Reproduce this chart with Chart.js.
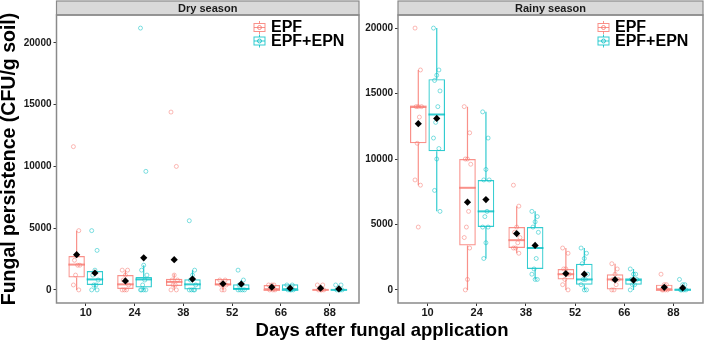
<!DOCTYPE html>
<html>
<head>
<meta charset="utf-8">
<script src="https://cdn.jsdelivr.net/npm/chart.js@4.4.0/dist/chart.umd.min.js"></script>
<style>
  body { margin: 0; background: #fff; width: 708px; height: 342px; position: relative; overflow: hidden; font-family: 'Liberation Sans', Arial, sans-serif; }
  canvas { position: absolute; top: 0; }
  #dry { left: 0; }
  #rainy { left: 364px; }
  #xtitle { position: absolute; left: 57px; width: 650px; top: 321px; text-align: center; font-weight: bold; font-size: 18.5px; line-height: 18.5px; color: #000; }
</style>
</head>
<body>
<canvas id="dry" width="364" height="342"></canvas>
<canvas id="rainy" width="344" height="342"></canvas>
<div id="xtitle">Days after fungal application</div>
<script>
const days = ['10', '24', '38', '52', '66', '88'];
const treatments = ['EPF', 'EPF+EPN'];
const yTicks = [0, 5000, 10000, 15000, 20000];

// dry season - EPF
const dryEpfLow = [0, 0, 0, 0, 0, 0];
const dryEpfQ1 = [1000, 80, 320, 350, 0, 0];
const dryEpfMedian = [2050, 450, 650, 450, 0, 0];
const dryEpfQ3 = [2750, 1200, 900, 880, 400, 0];
const dryEpfHigh = [4800, 1600, 1300, 880, 400, 0];
const dryEpfMean = [2850, 730, 2450, 500, 220, 140];
const dryEpfPoints = [
    [11600, 4800, 2800, 2400, 2000, 2000, 1200, 400, 0],
    [1600, 1600, 1200, 800, 400, 0, 0, 0],
    [14400, 10000, 1200, 800, 800, 400, 400, 0, 0],
    [800, 800, 400, 400, 400, 0, 0],
    [400, 400, 400, 0, 0, 0],
    [400, 400, 0, 0, 0, 0]
];

// dry season - EPF+EPN
const dryEpnLow = [0, 0, 0, 0, 0, 0];
const dryEpnQ1 = [400, 200, 0, 0, 0, 0];
const dryEpnMedian = [850, 850, 450, 80, 0, 0];
const dryEpnQ3 = [1530, 1050, 860, 450, 450, 0];
const dryEpnHigh = [1600, 2000, 1600, 800, 450, 0];
const dryEpnMean = [1370, 2600, 880, 480, 140, 80];
const dryEpnPoints = [
    [4800, 3200, 1600, 1200, 800, 400, 400, 0, 0],
    [21200, 9600, 2000, 1600, 1200, 800, 400, 0, 0, 0, 0],
    [5600, 1600, 1200, 800, 400, 0, 0, 0, 0],
    [1600, 800, 400, 400, 0, 0, 0, 0],
    [400, 400, 0, 0, 0, 0],
    [400, 400, 0, 0, 0, 0]
];

// rainy season - EPF
const rainyEpfLow = [8000, 0, 2800, 0, 0, 0];
const rainyEpfQ1 = [11200, 3400, 3200, 800, 0, 0];
const rainyEpfMedian = [14000, 7800, 3800, 1200, 800, 0];
const rainyEpfQ3 = [14000, 10000, 4800, 1600, 1200, 400];
const rainyEpfHigh = [16800, 14000, 6400, 3200, 2000, 400];
const rainyEpfMean = [12700, 6700, 4300, 1250, 780, 200];
const rainyEpfPoints = [
    [20000, 16800, 14000, 14000, 14000, 13200, 11200, 8400, 8000, 4800],
    [14000, 12000, 10000, 10000, 9600, 6000, 4800, 4000, 3200, 800, 0],
    [8000, 6400, 4800, 4400, 4000, 3600, 3200, 3200, 2800],
    [3200, 2800, 1600, 1600, 1200, 1200, 800, 400, 0],
    [2000, 1600, 1200, 800, 800, 400, 0, 0],
    [1200, 400, 400, 0, 0, 0, 0]
];

// rainy season - EPF+EPN
const rainyEpnLow = [6000, 2400, 800, 0, 0, 0];
const rainyEpnQ1 = [10600, 4800, 1600, 400, 400, 0];
const rainyEpnMedian = [13400, 6000, 3200, 800, 800, 0];
const rainyEpnQ3 = [16100, 8400, 4800, 2000, 800, 100];
const rainyEpnHigh = [20000, 13600, 6000, 3200, 1600, 250];
const rainyEpnMean = [13100, 6900, 3400, 1200, 750, 150];
const rainyEpnPoints = [
    [20000, 16800, 16400, 16000, 15200, 14000, 12800, 11600, 10800, 10000, 7600, 6000],
    [13600, 11600, 9200, 8400, 8400, 6000, 5600, 4800, 4800, 3600, 2400],
    [6000, 5600, 5200, 4800, 4400, 2400, 1600, 1200, 800, 800],
    [3200, 2800, 2400, 2000, 1200, 800, 800, 400, 0, 0],
    [1600, 1200, 1200, 800, 800, 400, 400, 0],
    [800, 400, 400, 0, 0, 0, 0]
];

const colors = ['248, 118, 109', '0, 191, 196'];
const catPct = 0.75;

Chart.defaults.font.family = "'Liberation Sans', Arial, sans-serif";

// whiskers + median for each box, strip, frame and legend
const boxParts = {
    id: 'boxParts',
    afterDatasetDraw(chart, args) {
        const ds = chart.data.datasets[args.index];
        if (!ds.med) return;
        const ctx = chart.ctx;
        const y = chart.scales.y;
        ctx.save();
        ctx.strokeStyle = ds.borderColor;
        args.meta.data.forEach((bar, i) => {
            const half = bar.width / 2;
            ctx.lineWidth = 1.2;
            ctx.beginPath();
            ctx.moveTo(bar.x, y.getPixelForValue(ds.hi[i]));
            ctx.lineTo(bar.x, y.getPixelForValue(ds.data[i].y[1]));
            ctx.moveTo(bar.x, y.getPixelForValue(ds.data[i].y[0]));
            ctx.lineTo(bar.x, y.getPixelForValue(ds.lo[i]));
            ctx.stroke();
            const my = y.getPixelForValue(ds.med[i]);
            ctx.lineWidth = 2;
            ctx.beginPath();
            ctx.moveTo(bar.x - half, my);
            ctx.lineTo(bar.x + half, my);
            ctx.stroke();
        });
        ctx.restore();
    },
    afterDraw(chart, args, opts) {
        const ctx = chart.ctx;
        const ca = chart.chartArea;
        ctx.save();
        // strip
        ctx.fillStyle = '#d9d9d9';
        ctx.fillRect(ca.left, 1, ca.width, ca.top - 1);
        ctx.strokeStyle = '#8a8a8a';
        ctx.lineWidth = 1.2;
        ctx.strokeRect(ca.left, 1, ca.width, ca.top - 1);
        ctx.fillStyle = '#1a1a1a';
        ctx.font = "bold 11px 'Liberation Sans', Arial, sans-serif";
        ctx.textAlign = 'center';
        ctx.textBaseline = 'middle';
        ctx.fillText(opts.season, (ca.left + ca.right) / 2, (1 + ca.top) / 2 + 0.5);
        // panel frame
        ctx.lineWidth = 1.5;
        ctx.strokeStyle = '#8a8a8a';
        ctx.strokeRect(ca.left, ca.top, ca.width, ca.height);
        // legend
        ctx.font = "bold 16px 'Liberation Sans', Arial, sans-serif";
        ctx.textAlign = 'left';
        treatments.forEach((t, k) => {
            const ky = ca.top + 12.5 + k * 13.5;
            const kx = ca.right - 105;
            ctx.strokeStyle = `rgba(${colors[k]}, 0.8)`;
            ctx.lineWidth = 1;
            ctx.strokeRect(kx, ky - 4, 11, 8);
            ctx.beginPath();
            ctx.moveTo(kx + 5.5, ky - 6.5);
            ctx.lineTo(kx + 5.5, ky - 4);
            ctx.moveTo(kx + 5.5, ky + 4);
            ctx.lineTo(kx + 5.5, ky + 6.5);
            ctx.moveTo(kx, ky);
            ctx.lineTo(kx + 11, ky);
            ctx.stroke();
            ctx.beginPath();
            ctx.arc(kx + 5.5, ky, 2, 0, Math.PI * 2);
            ctx.stroke();
            ctx.fillStyle = '#000';
            ctx.fillText(t, kx + 17, ky + 0.5);
        });
        ctx.restore();
    }
};

const jitter = (j) => ((j * 5) % 7 - 3) * 0.022;

function makeChart(id, season, series, yAxisWidth, padRight, yTitle) {
    const allValues = series.flatMap(s => s.pts.flat().concat(s.hi));
    const yMax = Math.max(...allValues);
    const yMin = Math.min(0, ...allValues);
    const pad = (yMax - yMin) * 0.05;

    const datasets = [];
    series.forEach((s, k) => {
        datasets.push({
            type: 'bar',
            label: treatments[k],
            data: s.q1.map((v, i) => ({ x: i, y: [v, s.q3[i]] })),
            lo: s.lo,
            hi: s.hi,
            med: s.med,
            backgroundColor: 'rgba(255, 255, 255, 0)',
            borderColor: `rgba(${colors[k]}, 0.8)`,
            borderWidth: 1.2,
            borderSkipped: false,
            categoryPercentage: catPct,
            barPercentage: 0.9,
            order: 3
        });
    });
    series.forEach((s, k) => {
        const off = (k - 0.5) * catPct / 2;
        datasets.push({
            type: 'scatter',
            label: treatments[k] + ' points',
            data: s.pts.flatMap((arr, i) => arr.map((v, j) => ({ x: i + off + jitter(j), y: v }))),
            pointStyle: 'circle',
            pointRadius: 2,
            backgroundColor: 'rgba(255, 255, 255, 0)',
            borderColor: `rgba(${colors[k]}, 0.5)`,
            borderWidth: 1,
            order: 2
        });
    });
    series.forEach((s, k) => {
        const off = (k - 0.5) * catPct / 2;
        datasets.push({
            type: 'scatter',
            label: treatments[k] + ' mean',
            data: s.mean.map((v, i) => ({ x: i + off, y: v })),
            pointStyle: 'rectRot',
            pointRadius: 3.6,
            backgroundColor: '#000',
            borderColor: '#000',
            borderWidth: 0,
            order: 1
        });
    });

    return new Chart(document.getElementById(id), {
        type: 'bar',
        data: { datasets },
        plugins: [boxParts],
        options: {
            responsive: false,
            animation: false,
            events: [],
            layout: { padding: { top: 15, right: padRight, bottom: 19, left: 0 } },
            plugins: {
                legend: { display: false },
                tooltip: { enabled: false },
                boxParts: { season }
            },
            scales: {
                x: {
                    type: 'linear',
                    min: -0.6,
                    max: 5.6,
                    offset: false,
                    afterBuildTicks: (scale) => { scale.ticks = days.map((d, i) => ({ value: i })); },
                    afterFit: (scale) => { scale.height = 20; },
                    ticks: {
                        callback: (v) => days[v],
                        font: { size: 11, weight: 'bold' },
                        color: '#1a1a1a',
                        padding: 0,
                        maxRotation: 0
                    },
                    grid: { drawOnChartArea: false, drawTicks: true, tickLength: 3, color: '#333', offset: false },
                    border: { display: false }
                },
                y: {
                    type: 'linear',
                    min: yMin - pad,
                    max: yMax + pad,
                    afterBuildTicks: (scale) => { scale.ticks = yTicks.map(v => ({ value: v })); },
                    afterFit: (scale) => { scale.width = yAxisWidth; },
                    ticks: {
                        callback: (v) => String(v),
                        font: { size: 10, weight: 'bold' },
                        color: '#1a1a1a',
                        padding: 2
                    },
                    grid: { drawOnChartArea: false, drawTicks: true, tickLength: 3, color: '#333' },
                    border: { display: false },
                    title: {
                        display: yTitle,
                        text: 'Fungal persistence (CFU/g soil)',
                        font: { size: 19.5, weight: 'bold', lineHeight: 1 },
                        color: '#000',
                        padding: 0
                    }
                }
            }
        }
    });
}

makeChart('dry', 'Dry season', [
    { lo: dryEpfLow, q1: dryEpfQ1, med: dryEpfMedian, q3: dryEpfQ3, hi: dryEpfHigh, mean: dryEpfMean, pts: dryEpfPoints },
    { lo: dryEpnLow, q1: dryEpnQ1, med: dryEpnMedian, q3: dryEpnQ3, hi: dryEpnHigh, mean: dryEpnMean, pts: dryEpnPoints }
], 56.5, 1, true);

makeChart('rainy', 'Rainy season', [
    { lo: rainyEpfLow, q1: rainyEpfQ1, med: rainyEpfMedian, q3: rainyEpfQ3, hi: rainyEpfHigh, mean: rainyEpfMean, pts: rainyEpfPoints },
    { lo: rainyEpnLow, q1: rainyEpnQ1, med: rainyEpnMedian, q3: rainyEpnQ3, hi: rainyEpnHigh, mean: rainyEpnMean, pts: rainyEpnPoints }
], 34, 2, false);
</script>
</body>
</html>
